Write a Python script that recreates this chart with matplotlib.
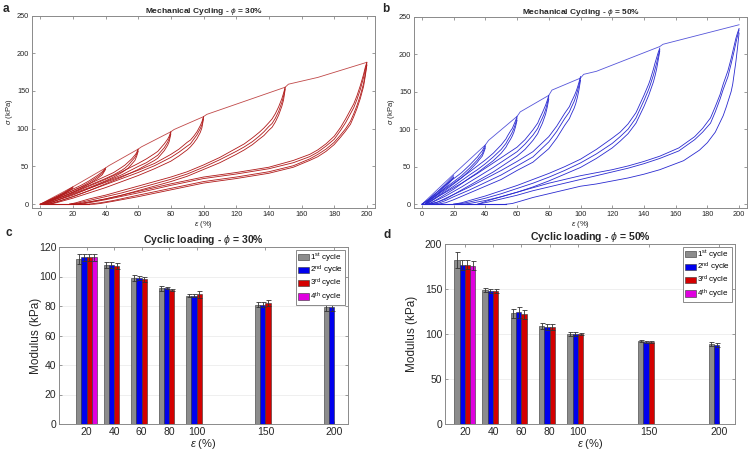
import numpy as np
import matplotlib.pyplot as plt

plt.rcParams['font.family'] = ['Liberation Sans', 'DejaVu Sans']
plt.rcParams['mathtext.fontset'] = 'custom'
plt.rcParams['mathtext.rm'] = 'Liberation Sans'
plt.rcParams['mathtext.it'] = 'Liberation Sans:italic'
plt.rcParams['mathtext.bf'] = 'Liberation Sans:bold'

# ---- panel a: mechanical cycling, phi = 30% (strain %, stress kPa) ----
a_env_eps = [0, 20, 40, 42, 60, 62, 80, 82, 100, 102, 150, 152, 170, 200]
a_env_sig = [0, 23, 48, 51, 73, 76, 96, 99, 116, 119, 155, 159, 168, 188]

a_eps_20 = [20, 15, 10, 5, 0]
a_sig_20 = [[23, 16, 10, 5, 0], [22, 15, 9, 4, 0], [21, 14, 8, 3, 0]]
a_eps_40 = [40, 38, 35, 30, 25, 20, 15, 10, 5, 1]
a_sig_40 = [[48, 43, 38, 31, 25, 20, 15, 10, 5, 0],
            [47, 41, 36, 29, 23, 18, 13, 8, 4, 0],
            [46, 39, 34, 27, 21, 16, 11, 7, 3, 0]]
a_eps_60 = [60, 59, 58, 56, 54, 52, 50, 45, 40, 30, 20, 10, 5, 2]
a_sig_60 = [[73, 68, 65, 60, 56, 52, 49, 42, 37, 27, 18, 9, 4, 0],
            [72, 66, 62, 57, 52, 48, 45, 39, 34, 25, 16, 7, 2, 0],
            [70, 63, 58, 53, 48, 45, 42, 36, 31, 22, 14, 5, 1, 0]]
a_eps_80 = [80, 79, 78, 76, 74, 72, 70, 65, 60, 50, 40, 30, 20, 10, 5, 2]
a_sig_80 = [[96, 90, 86, 80, 75, 70, 67, 60, 54, 43, 33, 24, 15, 7, 3, 0],
            [95, 87, 82, 75, 70, 65, 62, 55, 50, 39, 30, 21, 12, 5, 1, 0],
            [93, 83, 78, 71, 66, 61, 58, 52, 46, 36, 27, 18, 10, 3, 0, 0]]
a_eps_100 = [100, 99, 98, 96, 94, 92, 90, 85, 80, 70, 60, 50, 40, 30, 20, 10, 6, 3]
a_sig_100 = [[116, 109, 104, 96, 90, 85, 82, 73, 66, 54, 45, 37, 29, 21, 13, 5, 2, 0],
             [115, 105, 100, 92, 86, 80, 77, 69, 62, 51, 42, 34, 26, 18, 10, 3, 0, 0],
             [113, 101, 95, 87, 81, 76, 72, 64, 57, 47, 38, 30, 22, 15, 8, 2, 0, 0]]
a_eps_150 = [150, 149, 148, 146, 144, 142, 140, 137, 134, 130, 125, 120, 110, 100,
             90, 80, 70, 60, 50, 40, 30, 22, 18]
a_sig_150 = [[155, 147, 140, 129, 120, 113, 108, 101, 95, 88, 80, 74, 62, 52,
              43, 36, 30, 24, 18, 12, 7, 2, 0],
             [154, 143, 135, 123, 114, 107, 103, 96, 90, 83, 76, 70, 59, 49,
              40, 33, 27, 21, 15, 10, 5, 1, 0],
             [152, 138, 130, 118, 109, 102, 98, 91, 86, 79, 72, 66, 55, 46,
              37, 30, 24, 18, 12, 7, 3, 0, 0]]
a_eps_200u = [200, 199, 198, 196, 194, 192, 190, 187, 184, 180, 175, 170, 165, 155,
              140, 120, 100, 80, 60, 40, 30, 25, 19]
a_sig_200u = [[188, 181, 172, 157, 144, 133, 125, 113, 102, 90, 80, 72, 66, 58,
               49, 42, 36, 27, 17, 7, 3, 1, 0],
              [187, 178, 168, 152, 139, 128, 120, 108, 98, 86, 77, 69, 63, 55,
               47, 40, 34, 25, 15, 6, 2, 0, 0]]
a_eps_200l = [200, 199, 198, 196, 194, 192, 190, 187, 184, 180, 175, 170, 165, 155,
              140, 120, 100, 80, 60, 45, 37, 33, 30]
a_sig_200l = [[185, 172, 160, 144, 131, 120, 110, 100, 92, 82, 73, 66, 60, 51,
               43, 36, 30, 21, 12, 5, 2, 1, 0],
              [184, 169, 156, 140, 127, 116, 106, 97, 89, 79, 70, 63, 58, 49,
               41, 34, 28, 19, 10, 4, 1, 0, 0]]
a_base = [0, 30]

# ---- panel b: mechanical cycling, phi = 50% ----
b_env_eps = [0, 20, 40, 42, 60, 62, 80, 82, 100, 102, 110, 150, 152, 200]
b_env_sig = [0, 40, 79, 85, 117, 123, 145, 152, 168, 173, 177, 210, 213, 239]

b_eps_20 = [20, 15, 10, 5, 0]
b_sig_20 = [[38, 27, 17, 8, 0], [36, 25, 15, 7, 0], [35, 23, 13, 6, 0]]
b_eps_40 = [40, 39, 38, 36, 35, 30, 25, 20, 15, 10, 5, 2]
b_sig_40 = [[79, 75, 71, 66, 63, 52, 42, 34, 26, 17, 8, 0],
            [77, 72, 67, 62, 59, 48, 38, 30, 22, 14, 6, 0],
            [75, 69, 64, 59, 56, 45, 35, 27, 19, 11, 4, 0]]
b_eps_60 = [60, 59, 58, 57, 56, 54, 53, 50, 45, 40, 35, 30, 20, 10, 5, 2]
b_sig_60 = [[117, 111, 106, 101, 98, 91, 87, 79, 68, 59, 51, 43, 28, 13, 5, 0],
            [115, 107, 101, 96, 92, 85, 81, 73, 63, 54, 46, 39, 24, 10, 3, 0],
            [112, 103, 96, 91, 87, 80, 76, 68, 58, 50, 42, 35, 20, 7, 1, 0]]
b_eps_80 = [80, 79, 78, 77, 76, 74, 73, 70, 65, 60, 55, 45, 35, 25, 15, 10, 5, 2]
b_sig_80 = [[145, 138, 132, 127, 122, 113, 108, 99, 86, 76, 69, 55, 41, 28, 16, 10, 3, 0],
            [143, 134, 126, 120, 115, 106, 101, 92, 80, 70, 63, 49, 36, 23, 11, 6, 1, 0],
            [140, 129, 120, 114, 108, 99, 94, 85, 73, 64, 57, 43, 31, 19, 7, 3, 0, 0]]
b_eps_100 = [100, 99, 98, 97, 96, 94, 93, 90, 85, 80, 70, 60, 50, 40, 30, 20, 15, 10, 5]
b_sig_100 = [[170, 162, 155, 149, 144, 135, 130, 121, 104, 90, 70, 57, 45, 34, 23, 13, 8, 3, 0],
             [168, 158, 150, 143, 137, 128, 123, 114, 97, 83, 63, 51, 39, 29, 19, 10, 5, 1, 0],
             [165, 152, 142, 134, 128, 119, 114, 105, 88, 74, 56, 45, 33, 24, 15, 6, 2, 0, 0]]
b_eps_150 = [150, 149, 148, 147, 146, 144, 143, 140, 135, 130, 125, 120, 110, 100,
             90, 80, 70, 60, 50, 40, 30, 25, 20]
b_sig_150 = [[208, 202, 195, 188, 180, 166, 160, 145, 122, 107, 96, 88, 73, 60,
              50, 41, 33, 25, 18, 11, 5, 2, 0],
             [206, 197, 188, 180, 172, 159, 153, 138, 115, 100, 90, 81, 67, 55,
              45, 36, 28, 21, 14, 8, 3, 1, 0],
             [204, 192, 180, 171, 163, 151, 145, 130, 108, 94, 84, 75, 61, 49,
              40, 31, 23, 16, 10, 5, 1, 0, 0]]
b_eps_200u = [200, 199, 198, 197, 195, 193, 190, 188, 185, 182, 177, 172, 162, 150,
              140, 130, 120, 110, 100, 90, 80, 70, 60, 50, 42, 35]
b_sig_200u = [[234, 228, 221, 212, 194, 178, 160, 146, 130, 115, 101, 90, 75, 64,
               57, 51, 46, 42, 38, 33, 28, 22, 16, 10, 5, 0],
              [232, 224, 215, 205, 187, 170, 153, 140, 123, 108, 96, 86, 71, 61,
               54, 48, 43, 38, 33, 28, 23, 18, 12, 7, 3, 0]]
b_eps_200l = [200, 199, 198, 196, 195, 192, 190, 185, 180, 175, 165, 150, 140, 130,
              120, 110, 100, 90, 80, 70, 62, 57, 53]
b_sig_200l = [[228, 208, 190, 160, 150, 130, 118, 96, 82, 72, 58, 46, 40, 35,
               31, 27, 24, 19, 14, 9, 4, 1, 0]]
b_base = [0, 53]

# ---- panels c, d: modulus per cycle ----
strain = [20, 40, 60, 80, 100, 150, 200]
cycle_labels = ['1$^{\\mathrm{st}}$ cycle', '2$^{\\mathrm{nd}}$ cycle',
                '3$^{\\mathrm{rd}}$ cycle', '4$^{\\mathrm{th}}$ cycle']
nan = np.nan
c_mod = [[112, 108, 99, 92, 87, 81, 79],
         [113, 108, 99, 92, 87, 81, 79],
         [113, 107, 98, 91, 88, 82, nan],
         [113, nan, nan, nan, nan, nan, nan]]
c_err = [[3.5, 2, 2, 1.5, 1, 2, 2.5],
         [2.5, 2, 1.5, 0.8, 1, 1.5, 2.5],
         [2.5, 2, 1.5, 0.5, 2.5, 2, nan],
         [2.5, nan, nan, nan, nan, nan, nan]]
d_mod = [[182, 149, 123, 109, 100, 92, 89],
         [177, 148, 124, 108, 100, 91, 88],
         [177, 148, 122, 108, 100, 91, nan],
         [176, nan, nan, nan, nan, nan, nan]]
d_err = [[9, 2, 5, 3, 2, 1, 2],
         [5.5, 2, 6, 3, 2, 1, 2],
         [5, 2, 5, 3, 1.5, 1, nan],
         [5, nan, nan, nan, nan, nan, nan]]
bar_colors = ['#8c8c8c', '#0000ee', '#d40000', '#e000e0']

spine_col = '#8a8a8a'
text_col = '#262626'


def style_axes(ax, fs):
    for s in ax.spines.values():
        s.set_color(spine_col)
        s.set_linewidth(0.7)
    ax.tick_params(direction='in', top=True, right=True, length=2.5, width=0.6,
                   color=spine_col, labelsize=fs, labelcolor=text_col, pad=2)


def cycling_panel(ax, col, env_eps, env_sig, loops, base, title):
    for eps, rows in loops:
        for sig in rows:
            ax.plot(eps, sig, color=col, lw=0.6)
    ax.plot(env_eps, env_sig, color=col, lw=0.6, alpha=0.8)
    ax.plot(base, [0, 0], color=col, lw=0.8)
    ax.set_xlim(-5, 205)
    ax.set_ylim(-5, 250)
    ax.set_xticks(np.arange(0, 201, 20))
    ax.set_yticks(np.arange(0, 251, 50))
    style_axes(ax, 5.3)
    ax.set_title(title, fontsize=6, fontweight='bold', color=text_col, pad=2)
    ax.set_xlabel(r'$\epsilon$ (%)', fontsize=5.5, color=text_col, labelpad=1)
    ax.set_ylabel(r'$\sigma$ (kPa)', fontsize=5.5, color=text_col, labelpad=1)


def modulus_panel(ax, mod, err, ymax, yticks, xlim, title, ylab_x):
    w = 3.75
    offs = [-1.5 * w, -0.5 * w, 0.5 * w, 1.5 * w]
    for i in range(4):
        x = np.array(strain) + offs[i]
        ax.bar(x, mod[i], width=w, color=bar_colors[i], edgecolor='#333333',
               linewidth=0.4, label=cycle_labels[i], zorder=2)
        ax.errorbar(x, mod[i], yerr=err[i], fmt='none', ecolor='#333333',
                    elinewidth=0.6, capsize=1.8, capthick=0.6, zorder=3)
    ax.set_xlim(*xlim)
    ax.set_ylim(0, ymax)
    ax.set_xticks(strain)
    ax.set_yticks(yticks)
    ax.yaxis.grid(True, color='#ececec', lw=0.6, zorder=0)
    ax.set_axisbelow(True)
    style_axes(ax, 7.5)
    ax.set_title(title, fontsize=7.6, fontweight='bold', color=text_col, pad=3)
    ax.set_xlabel(r'$\epsilon$ (%)', fontsize=8, color=text_col, labelpad=0)
    ax.set_ylabel('Modulus (kPa)', fontsize=8.5, color=text_col)
    ax.yaxis.set_label_coords(ylab_x, 0.5)
    leg = ax.legend(loc='upper right', fontsize=5.8, handlelength=1.45, handleheight=0.85,
                    handletextpad=0.15, labelspacing=0.0, borderpad=0.15,
                    borderaxespad=0.4, fancybox=False, framealpha=1)
    leg.get_frame().set_edgecolor(spine_col)
    leg.get_frame().set_linewidth(0.7)


fig = plt.figure(figsize=(7.52, 4.5), dpi=100)

ax_a = fig.add_axes([32 / 752, 1 - 208 / 450, 343 / 752, 192.5 / 450])
cycling_panel(ax_a, '#b01a1a', a_env_eps, a_env_sig,
              [(a_eps_20, a_sig_20), (a_eps_40, a_sig_40), (a_eps_60, a_sig_60),
               (a_eps_80, a_sig_80), (a_eps_100, a_sig_100), (a_eps_150, a_sig_150),
               (a_eps_200u, a_sig_200u), (a_eps_200l, a_sig_200l)],
              a_base, r'Mechanical Cycling - $\phi$ = 30%')

ax_b = fig.add_axes([414 / 752, 1 - 208 / 450, 333 / 752, 191.5 / 450])
cycling_panel(ax_b, '#2a2ad0', b_env_eps, b_env_sig,
              [(b_eps_20, b_sig_20), (b_eps_40, b_sig_40), (b_eps_60, b_sig_60),
               (b_eps_80, b_sig_80), (b_eps_100, b_sig_100), (b_eps_150, b_sig_150),
               (b_eps_200u, b_sig_200u), (b_eps_200l, b_sig_200l)],
              b_base, r'Mechanical Cycling - $\phi$ = 50%')

ax_c = fig.add_axes([59 / 752, 1 - 424 / 450, 289 / 752, 177 / 450])
modulus_panel(ax_c, c_mod, c_err, 120, np.arange(0, 121, 20), (0, 210),
              r'Cyclic loading - $\phi$ = 30%', -0.058)

ax_d = fig.add_axes([445 / 752, 1 - 424 / 450, 290 / 752, 180 / 450])
modulus_panel(ax_d, d_mod, d_err, 200, np.arange(0, 201, 50), (6, 211),
              r'Cyclic loading - $\phi$ = 50%', -0.092)

for lab, x, y in [('a', 3, 9), ('b', 382, 9), ('c', 5, 233), ('d', 383, 235)]:
    fig.text(x / 752, 1 - y / 450, lab, fontsize=8.5, fontweight='bold', color=text_col,
             va='center', ha='left')

fig.savefig('out.png', dpi=100)
